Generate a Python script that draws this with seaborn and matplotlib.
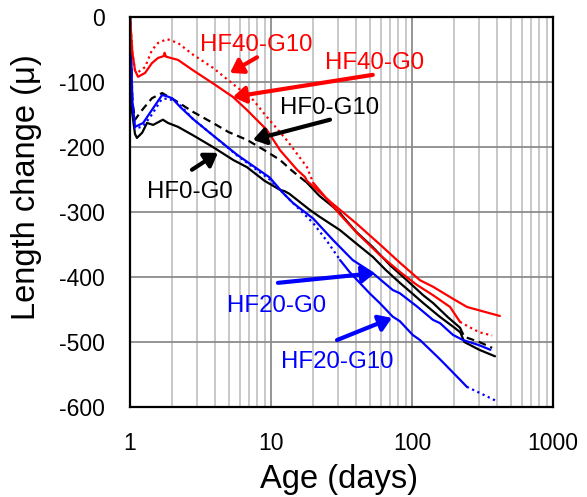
import matplotlib
matplotlib.use("Agg")
import matplotlib.pyplot as plt
import seaborn as sns
import pandas as pd
import numpy as np
from matplotlib.ticker import NullFormatter, LogLocator

# ---------------- data ----------------
hf0_g0_x = [1, 1.03, 1.085, 1.12, 1.22, 1.32, 1.46, 1.71, 1.86, 2.19, 2.8, 3.87, 5.4, 6.75, 9, 11.6, 12.5,
            13.5, 18.9, 22, 30.9, 40, 52.7, 65, 82, 100, 120, 157, 200, 220, 235, 300, 388]
hf0_g0_y = [0, -143, -180, -186, -178, -163, -166, -158, -163, -169, -182, -200, -220, -231, -252, -266, -268,
            -272, -297, -307, -328, -348, -369, -389, -409, -425, -440, -461, -478, -485, -500, -512, -522]

hf0_g10_x = [1, 1.04, 1.085, 1.22, 1.43, 1.69, 2.08, 2.8, 3.87, 5, 6.75, 9, 11.6, 14, 18, 22, 27.5, 30.9,
             40, 52.7, 70, 92, 120, 141, 180, 219, 235, 300, 370]
hf0_g10_y = [0, -130, -158, -143, -125, -117, -128, -146, -163, -177, -189, -205, -220, -236, -255, -275, -292, -302,
             -330, -354, -382, -405, -428, -440, -462, -478, -492, -500, -509]

hf20_g0_x = [1, 1.04, 1.085, 1.24, 1.43, 1.69, 1.83, 1.99, 2.26, 2.8, 3.87, 5.75, 9.8, 12.2, 14.3, 19.9,
             27.5, 38, 52.7, 73, 82, 108, 141, 158, 195, 230, 300, 360]
hf20_g0_y = [0, -130, -169, -163, -143, -120, -122, -125, -138, -157, -182, -212, -247, -271, -286, -310,
             -343, -374, -394, -420, -425, -445, -466, -471, -489, -497, -505, -512]

hf20_g10_x = [1, 1.04, 1.085, 1.24, 1.43, 1.67, 1.85, 2.19, 2.8, 3.87, 5.75, 9.8, 13, 19.9, 25, 30.9, 36,
              42.6, 50, 59, 73, 82, 101, 114, 157, 219, 245, 300, 390]
hf20_g10_y = [0, -135, -172, -168, -150, -127, -125, -132, -157, -182, -213, -250, -277, -317, -345, -374, -392,
              -409, -425, -440, -461, -468, -489, -497, -526, -558, -569, -578, -590]

hf40_g0_x = [1, 1.04, 1.085, 1.14, 1.28, 1.43, 1.58, 1.74, 1.76, 1.8, 2.19, 2.8, 3.87, 5.37, 6.75, 9.37,
             11.6, 15.3, 17.4, 18, 26.6, 40, 60, 82, 114, 141, 190, 245, 320, 420]
hf40_g0_y = [0, -55, -82, -92, -86, -71, -63, -60, -55, -61, -66, -82, -102, -123, -143, -174,
             -205, -235, -246, -252, -285, -317, -351, -378, -405, -415, -432, -446, -453, -460]

hf40_g10_x = [1, 1.04, 1.085, 1.14, 1.28, 1.43, 1.58, 1.83, 2.19, 2.8, 3.87, 5.37, 7.5, 9.37, 13, 18, 19.9,
              30.9, 40.6, 59, 82, 108, 141, 186, 219, 260, 300, 370]
hf40_g10_y = [0, -55, -82, -85, -77, -51, -40, -34, -40, -58, -78, -103, -128, -154, -190, -231, -255,
              -304, -332, -366, -392, -412, -428, -446, -469, -478, -485, -490]

series_names = ["HF0-G0", "HF0-G10", "HF20-G0", "HF20-G10", "HF40-G0", "HF40-G10"]
x_ticks = [1, 10, 100, 1000]
x_tick_labels = ["1", "10", "100", "1000"]
y_ticks = [-600, -500, -400, -300, -200, -100, 0]

# ---------------- figure ----------------
sns.set_style("white")
plt.rcParams["font.family"] = ["Liberation Sans", "DejaVu Sans"]
plt.rcParams["axes.unicode_minus"] = False

fig = plt.figure(figsize=(5.87, 4.97), dpi=100)
ax = fig.add_axes([130 / 587, 1 - 407 / 497, 423 / 587, 390 / 497])

RED, BLUE, BLACK = "#FF0000", "#0000FF", "#000000"
LW = 1.6
DOT = (0, (1, 1.6))
DASH = (0, (3.5, 2.2))


def draw(xs, ys, color, style="-", solid_range=None):
    df = pd.DataFrame({"x": xs, "y": ys})
    if solid_range is None:
        sns.lineplot(data=df, x="x", y="y", ax=ax, color=color, lw=LW, sort=False,
                     estimator=None, linestyle=style)
        return
    lo, hi = solid_range
    early = df[df.x <= lo]
    mid = df[(df.x >= lo) & (df.x <= hi)]
    late = df[df.x >= hi]
    for part, ls in ((early, style), (mid, "-"), (late, style)):
        sns.lineplot(data=part, x="x", y="y", ax=ax, color=color, lw=LW, sort=False,
                     estimator=None, linestyle=ls)


draw(hf0_g0_x, hf0_g0_y, BLACK)
draw(hf0_g10_x, hf0_g10_y, BLACK, DASH, (18, 219))
draw(hf20_g0_x, hf20_g0_y, BLUE)
draw(hf20_g10_x, hf20_g10_y, BLUE, DOT, (30.9, 245))
draw(hf40_g0_x, hf40_g0_y, RED)
draw(hf40_g10_x, hf40_g10_y, RED, DOT, (19.9, 219))

ax.set_xscale("log")
ax.set_xlim(1, 1000)
ax.set_ylim(-600, 0)
ax.set_yticks(y_ticks)
ax.set_yticklabels([str(v) for v in y_ticks])
ax.set_xticks(x_ticks)
ax.set_xticklabels(x_tick_labels)
ax.xaxis.set_minor_locator(LogLocator(base=10, subs=np.arange(2, 10)))
ax.xaxis.set_minor_formatter(NullFormatter())

ax.grid(True, which="major", axis="both", color="#8c8c8c", lw=1.3)
ax.grid(True, which="minor", axis="x", color="#c4c4c4", lw=1.3)
ax.set_axisbelow(True)

for s in ax.spines.values():
    s.set_color("black")
    s.set_linewidth(1.6)

ax.tick_params(axis="both", which="both", length=0, labelsize=16.5, colors="black")
ax.tick_params(axis="x", pad=18)
ax.tick_params(axis="y", pad=18)

ax.set_xlabel("Age (days)", fontsize=23.5, color="black")
ax.set_ylabel("Length change (μ)", fontsize=23.5, color="black")
ax.xaxis.set_label_coords(0.494, -0.146)
ax.yaxis.set_label_coords(-0.208, 0.564)

# ---------------- annotations ----------------
ann = [
    ("HF40-G10", (7.84, -43), (7.96, -62), (5.12, -86), RED),
    ("HF40-G0", (53.9, -71), (52.7, -89), (5.37, -123), RED),
    ("HF0-G10", (26.2, -140), (26.2, -158), (7.44, -189), BLACK),
    ("HF0-G0", (2.66, -269), (2.75, -235), (4.2, -209), BLACK),
    ("HF20-G0", (11.0, -445), (11.2, -409), (54.5, -394), BLUE),
    ("HF20-G10", (29.4, -531), (29.4, -497), (72, -463), BLUE),
]
for label, txy, start, end, col in ann:
    ax.text(txy[0], txy[1], label, color=col, fontsize=17.3, ha="center", va="center")
    ax.annotate("", xy=end, xytext=start,
                arrowprops=dict(arrowstyle="-|>,head_length=0.75,head_width=0.5", color=col, lw=3,
                                shrinkA=0, shrinkB=0))

fig.savefig("out.png", dpi=100)
